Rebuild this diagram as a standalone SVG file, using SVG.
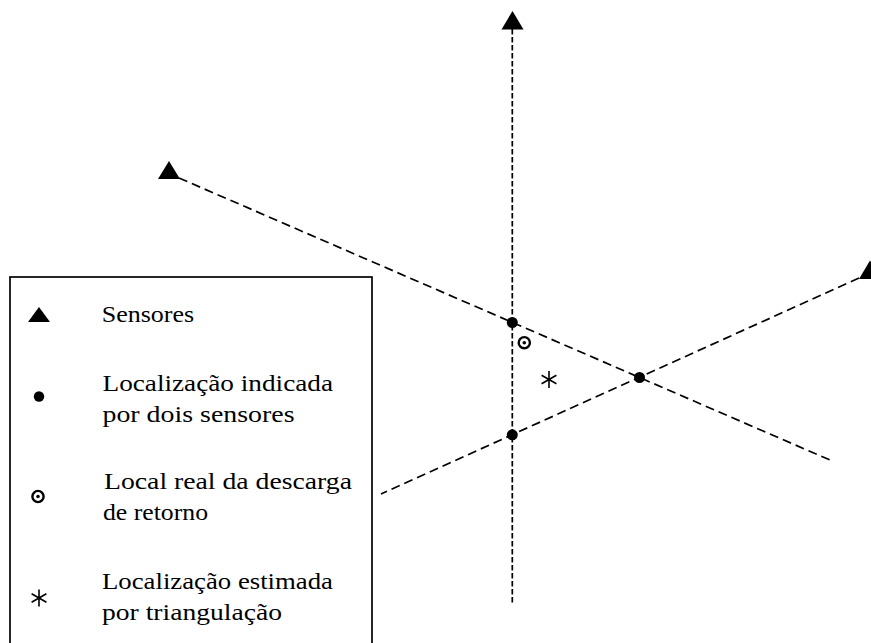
<svg xmlns="http://www.w3.org/2000/svg" width="871" height="643" viewBox="0 0 871 643">
  <defs>
    <style>
      .tri { fill: #000; stroke: none; }
      .dot { fill: #000; stroke: none; }
      .ring { fill: none; stroke: #000; stroke-width: 2.4; }
      .ast { stroke: #000; stroke-width: 1.6; stroke-linecap: butt; fill: none; }
      .ray { fill: none; stroke: #000; stroke-width: 1.7; stroke-dasharray: 9 5; }
      .ray-v { fill: none; stroke: #000; stroke-width: 1.7; stroke-dasharray: 5.5 2.5; }
      .box { fill: #fff; stroke: #000; stroke-width: 1.7; }
      .lbl { font-family: "Liberation Serif", "DejaVu Serif", serif; font-size: 22.5px; fill: #000; }
    </style>
  </defs>
  <rect width="871" height="643" fill="#fff"/>

  <g id="connectors">
    <line class="ray-v" x1="512.3" y1="29" x2="512.3" y2="604"/>
    <line class="ray" x1="179" y1="178" x2="830" y2="460"/>
    <line class="ray" x1="859" y1="278" x2="381" y2="494"/>
  </g>

  <g id="sensor-top">
    <polygon class="tri" points="512.5,11 501.5,29.5 523.5,29.5"/>
  </g>
  <g id="sensor-left">
    <polygon class="tri" points="169,161 158,179 180,179"/>
  </g>
  <g id="sensor-right">
    <polygon class="tri" points="870,260.5 859,279 881,279"/>
  </g>

  <g id="point-a">
    <circle class="dot" cx="512.3" cy="322.5" r="5.5"/>
  </g>
  <g id="point-b">
    <circle class="dot" cx="639.5" cy="377.5" r="5.5"/>
  </g>
  <g id="point-c">
    <circle class="dot" cx="512.3" cy="434.8" r="5.5"/>
  </g>
  <g id="real-strike">
    <circle class="ring" cx="524.3" cy="342.7" r="5.6"/>
    <circle class="dot" cx="524.3" cy="342.7" r="1.8"/>
  </g>
  <g id="estimated">
    <path class="ast" d="M549,371 V388 M541.6,375.2 L556.4,383.8 M541.6,383.8 L556.4,375.2"/>
  </g>

  <g id="legend">
    <rect class="box" x="10" y="277" width="362" height="400"/>
    <polygon class="tri" points="39,307 28,322 50,322"/>
    <text class="lbl" x="101.7" y="321.5" textLength="92.5" lengthAdjust="spacingAndGlyphs">Sensores</text>

    <circle class="dot" cx="39" cy="396.5" r="5.2"/>
    <text class="lbl" x="102.5" y="390.5" textLength="230.5" lengthAdjust="spacingAndGlyphs">Localização indicada</text>
    <text class="lbl" x="102.5" y="421.5" textLength="192" lengthAdjust="spacingAndGlyphs">por dois sensores</text>

    <circle class="ring" cx="38" cy="496.5" r="5.6"/>
    <circle class="dot" cx="38" cy="496.5" r="1.8"/>
    <text class="lbl" x="104" y="488.5" textLength="248" lengthAdjust="spacingAndGlyphs">Local real da descarga</text>
    <text class="lbl" x="103" y="519.5" textLength="105" lengthAdjust="spacingAndGlyphs">de retorno</text>

    <path class="ast" d="M39,589.5 V606.5 M31.6,593.7 L46.4,602.3 M31.6,602.3 L46.4,593.7"/>
    <text class="lbl" x="102" y="588.5" textLength="231" lengthAdjust="spacingAndGlyphs">Localização estimada</text>
    <text class="lbl" x="102" y="619.5" textLength="180" lengthAdjust="spacingAndGlyphs">por triangulação</text>
  </g>
</svg>
